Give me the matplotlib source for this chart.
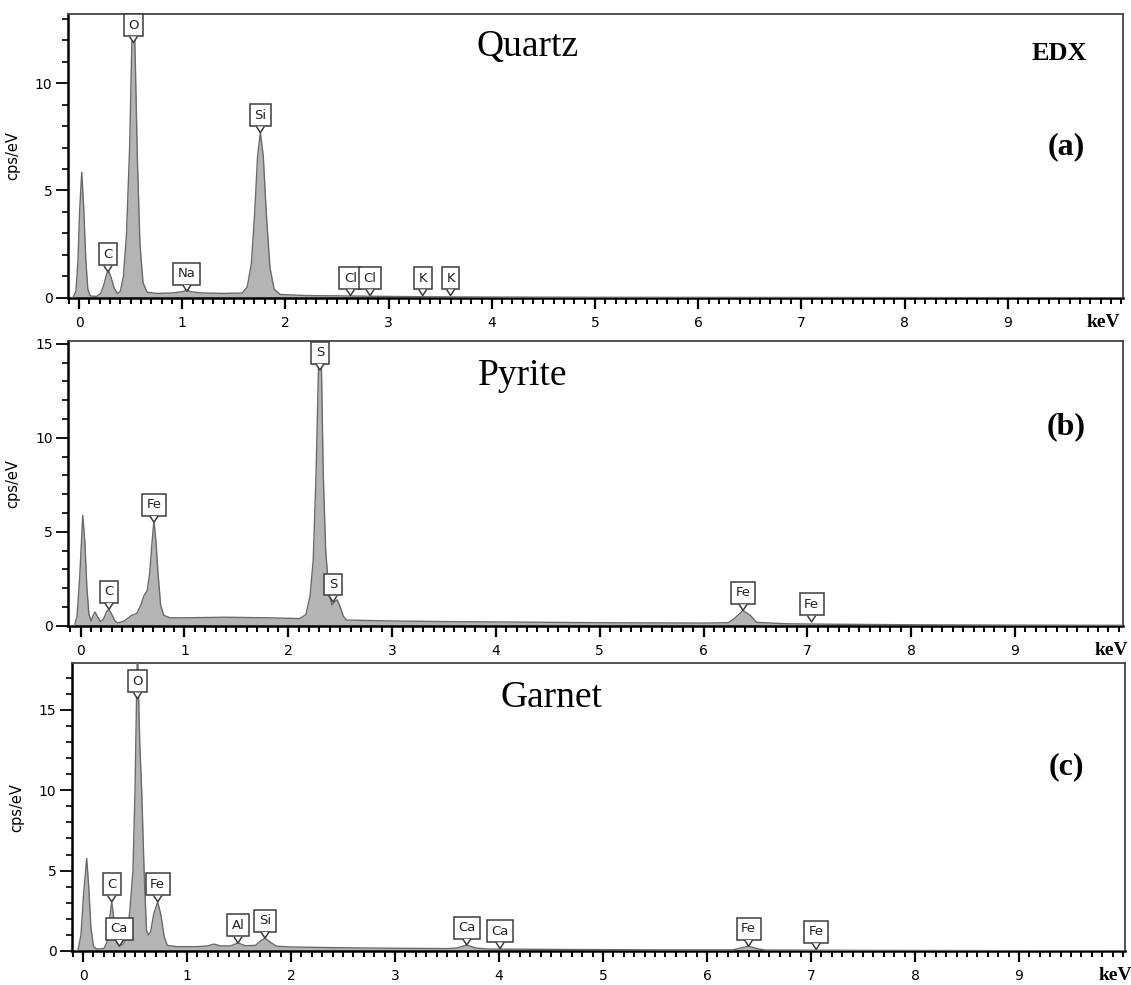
import numpy as np
import matplotlib
matplotlib.use("Agg")
import matplotlib.pyplot as plt  # noqa: E402
import matplotlib.transforms as mtransforms  # noqa: E402
from matplotlib.patches import Polygon  # noqa: E402
from matplotlib.ticker import MultipleLocator  # noqa: E402

# --------------------------------------------------------------------------- #
# spectra: energy (keV) -> counts (cps/eV)
quartz_energy = [-0.06, -0.03, -0.01, 0.005, 0.026, 0.045, 0.065, 0.085, 0.11, 0.17,
                 0.21, 0.24, 0.27, 0.29, 0.31, 0.34, 0.37, 0.40, 0.43, 0.46,
                 0.49, 0.51, 0.527, 0.545, 0.565, 0.59, 0.62, 0.66, 0.75, 0.90,
                 1.00, 1.045, 1.09, 1.20, 1.40, 1.58, 1.63, 1.67, 1.70, 1.73,
                 1.757, 1.785, 1.815, 1.85, 1.89, 1.95, 2.2, 2.6, 3.0, 3.5,
                 4.0, 5.0, 7.0, 10.2]
quartz_counts = [0.0, 0.3, 1.8, 4.0, 5.85, 4.2, 1.8, 0.4, 0.08, 0.06,
                 0.2, 0.6, 1.15, 1.2, 0.95, 0.45, 0.2, 0.3, 1.0, 3.0,
                 7.0, 11.5, 14.5, 11.0, 6.5, 2.5, 0.7, 0.25, 0.2, 0.22,
                 0.28, 0.35, 0.27, 0.22, 0.2, 0.22, 0.5, 1.6, 3.8, 6.6,
                 7.7, 6.6, 3.9, 1.4, 0.4, 0.15, 0.1, 0.08, 0.06, 0.04,
                 0.03, 0.02, 0.01, 0.0]

pyrite_energy = [-0.06, -0.035, -0.01, 0.02, 0.04, 0.06, 0.08, 0.10, 0.12, 0.138,
                 0.16, 0.19, 0.22, 0.25, 0.273, 0.30, 0.33, 0.36, 0.42, 0.49,
                 0.54, 0.58, 0.61, 0.64, 0.665, 0.69, 0.706, 0.725, 0.745, 0.77,
                 0.80, 0.86, 1.0, 1.4, 1.8, 2.11, 2.17, 2.21, 2.24, 2.267,
                 2.29, 2.305, 2.32, 2.337, 2.36, 2.39, 2.42, 2.45, 2.47, 2.50,
                 2.53, 2.56, 3.0, 3.5, 4.0, 5.0, 6.0, 6.24, 6.30, 6.38,
                 6.45, 6.51, 6.8, 7.2, 8.0, 9.0, 10.2]
pyrite_counts = [0.0, 0.5, 2.5, 5.87, 4.5, 2.0, 0.6, 0.25, 0.55, 0.73,
                 0.5, 0.22, 0.35, 0.75, 0.87, 0.6, 0.25, 0.15, 0.25, 0.55,
                 0.65, 1.1, 1.6, 1.85, 2.8, 4.6, 5.6, 4.5, 2.8, 1.1,
                 0.55, 0.42, 0.42, 0.45, 0.42, 0.38, 0.6, 1.6, 3.5, 8.0,
                 13.5, 16.5, 13.5, 8.0, 4.0, 1.9, 1.1, 1.3, 1.38, 1.0,
                 0.5, 0.3, 0.25, 0.22, 0.2, 0.16, 0.14, 0.16, 0.4, 0.81,
                 0.55, 0.18, 0.1, 0.08, 0.05, 0.03, 0.02]

garnet_energy = [-0.05, -0.02, 0.005, 0.035, 0.055, 0.075, 0.10, 0.13, 0.20, 0.23,
                 0.255, 0.276, 0.30, 0.32, 0.35, 0.38, 0.42, 0.45, 0.48, 0.50,
                 0.523, 0.545, 0.564, 0.587, 0.61, 0.628, 0.65, 0.68, 0.718, 0.75,
                 0.78, 0.81, 0.90, 1.10, 1.20, 1.26, 1.32, 1.42, 1.49, 1.56,
                 1.66, 1.70, 1.75, 1.80, 1.86, 2.0, 2.5, 3.0, 3.5, 3.59,
                 3.69, 3.78, 3.9, 4.5, 5.5, 6.25, 6.32, 6.40, 6.48, 6.56,
                 7.5, 9.0, 10.2]
garnet_counts = [0.0, 1.0, 3.5, 5.76, 4.0, 1.5, 0.3, 0.12, 0.15, 0.55,
                 2.0, 3.06, 1.8, 0.6, 0.4, 0.4, 0.8, 2.5, 5.0, 10.0,
                 19.0, 13.0, 10.0, 5.0, 1.3, 0.99, 1.2, 2.3, 3.06, 2.2,
                 0.9, 0.35, 0.27, 0.27, 0.32, 0.43, 0.32, 0.32, 0.5, 0.33,
                 0.35, 0.6, 0.8, 0.55, 0.3, 0.25, 0.2, 0.17, 0.15, 0.18,
                 0.37, 0.18, 0.12, 0.1, 0.07, 0.07, 0.18, 0.3, 0.15, 0.06,
                 0.04, 0.02, 0.01]

# peak markers: element, energy (keV), height of the pointer tip (cps/eV)
quartz_elements = ["C", "O", "Na", "Si", "Cl", "Cl", "K", "K"]
quartz_peak_kev = [0.28, 0.527, 1.045, 1.757, 2.63, 2.82, 3.33, 3.60]
quartz_peak_tip = [1.2, 11.9, 0.3, 7.7, 0.1, 0.1, 0.1, 0.1]

pyrite_elements = ["C", "Fe", "S", "S", "Fe", "Fe"]
pyrite_peak_kev = [0.273, 0.706, 2.305, 2.43, 6.38, 7.04]
pyrite_peak_tip = [0.87, 5.5, 13.6, 1.26, 0.81, 0.2]

garnet_elements = ["C", "Ca", "O", "Fe", "Al", "Si", "Ca", "Ca", "Fe", "Fe"]
garnet_peak_kev = [0.276, 0.35, 0.523, 0.718, 1.49, 1.75, 3.69, 4.01, 6.40, 7.05]
garnet_peak_tip = [3.06, 0.3, 15.7, 3.06, 0.5, 0.8, 0.37, 0.15, 0.3, 0.1]

x_tick_values = list(range(0, 10))

FILL = "#b4b4b4"
EDGE = "#6a6a6a"
SERIF = ["Liberation Serif", "DejaVu Serif"]

fig = plt.figure(figsize=(11.31, 9.85), dpi=100)
W, H = 1131, 985


def px_rect(x0, y0, x1, y1):
    return [x0 / W, 1 - y1 / H, (x1 - x0) / W, (y1 - y0) / H]


def callout(ax, name, x, y):
    """Boxed element label with a small V pointer ending at (x, y)."""
    base = mtransforms.ScaledTranslation(x, y, ax.transData)
    trans = mtransforms.Affine2D().scale(1 / 72.) + fig.dpi_scale_trans + base
    ax.annotate(name, xy=(x, y), xytext=(0, 12.6), textcoords="offset points",
                ha="center", va="center", fontsize=9.5, color="#222222",
                bbox=dict(boxstyle="square,pad=0.34", fc="white", ec="#3c3c3c",
                          lw=1.1), zorder=5, annotation_clip=False)
    ax.add_patch(Polygon([(-2.6, 4.4), (0, 0), (2.6, 4.4)], closed=True,
                         fc="white", ec="none", transform=trans, zorder=6,
                         clip_on=False))
    ax.plot([-2.6, 0, 2.6], [4.0, 0, 4.0], color="#3c3c3c", lw=1.1,
            transform=trans, zorder=7, clip_on=False)


def panel(rect, xlim, ylim, energy, counts, elements, kev, tips,
          name, name_xy, letter, letter_xy):
    ax = fig.add_axes(px_rect(*rect))
    ax.fill_between(energy, counts, 0, color=FILL, lw=0, zorder=2)
    ax.plot(energy, counts, color=EDGE, lw=1.0, zorder=3)
    ax.set_xlim(*xlim)
    ax.set_ylim(*ylim)

    ax.xaxis.set_major_locator(MultipleLocator(1))
    ax.xaxis.set_minor_locator(MultipleLocator(0.1))
    ax.set_xticks(x_tick_values)
    ax.set_xticklabels([str(v) for v in x_tick_values])
    ax.yaxis.set_major_locator(MultipleLocator(5))
    ax.yaxis.set_minor_locator(MultipleLocator(1))
    ax.tick_params(axis="x", which="major", length=8, width=1.6, pad=5,
                   labelsize=10, direction="out")
    ax.tick_params(axis="x", which="minor", length=4.5, width=1.4, direction="out")
    ax.tick_params(axis="y", which="major", length=9, width=1.3, pad=2,
                   labelsize=10, direction="out")
    ax.tick_params(axis="y", which="minor", length=4.5, width=1.2, direction="out")
    for s in ("left", "bottom"):
        ax.spines[s].set_linewidth(1.8)
        ax.spines[s].set_color("black")
    for s in ("top", "right"):
        ax.spines[s].set_linewidth(1.3)
        ax.spines[s].set_color("#444444")

    ax.set_ylabel("cps/eV", fontsize=10.5)
    ax.yaxis.set_label_coords(-0.045, 0.5)
    ax.annotate("keV", xy=(9.93, 0), xycoords=("data", "axes fraction"),
                xytext=(0, -17.5), textcoords="offset points", ha="center",
                va="center", fontsize=14, fontweight="bold", family=SERIF,
                annotation_clip=False)

    for el, e, t in zip(elements, kev, tips):
        callout(ax, el, e, t)

    fig.text(name_xy[0] / W, 1 - name_xy[1] / H, name, family=SERIF,
             fontsize=27, ha="center", va="baseline")
    fig.text(letter_xy[0] / W, 1 - letter_xy[1] / H, letter, family=SERIF,
             fontsize=23, fontweight="bold", ha="center", va="center")
    return ax


panel((67.7, 14, 1122.7, 297.7), (-0.110, 10.113), (0, 13.23),
      quartz_energy, quartz_counts, quartz_elements, quartz_peak_kev,
      quartz_peak_tip, "Quartz", (528, 56), "(a)", (1066, 147))
panel((68, 340.7, 1123, 625.7), (-0.122, 10.04), (0, 15.16),
      pyrite_energy, pyrite_counts, pyrite_elements, pyrite_peak_kev,
      pyrite_peak_tip, "Pyrite", (523, 385), "(b)", (1066, 427))
panel((71.7, 663.3, 1125, 951), (-0.109, 10.02), (0, 17.9),
      garnet_energy, garnet_counts, garnet_elements, garnet_peak_kev,
      garnet_peak_tip, "Garnet", (551, 707), "(c)", (1066, 767))

fig.text(1059 / W, 1 - 53 / H, "EDX", family=SERIF, fontsize=19,
         fontweight="bold", ha="center", va="center")

fig.savefig("out.png", dpi=100)
